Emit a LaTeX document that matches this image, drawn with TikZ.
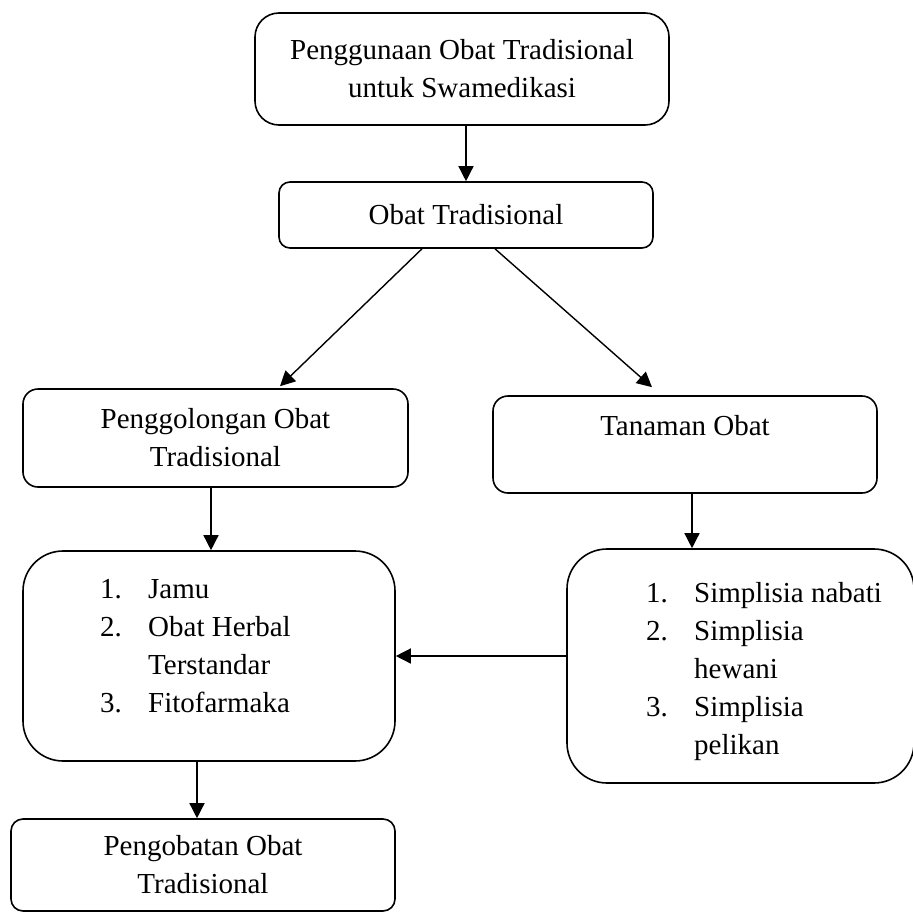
\documentclass[tikz,border=0pt]{standalone}
\usepackage{fontspec}
\setmainfont{Liberation Serif}
\usetikzlibrary{arrows.meta}

\begin{document}
\begin{tikzpicture}[
  x=1pt, y=-1pt,
  font=\fontsize{29}{38}\selectfont,
  box/.style={draw, line width=1.6pt, fill=white, align=center, inner sep=0pt},
  arr/.style={-{Triangle[length=15pt, width=15pt]}, line width=1.4pt},
  lst/.style={inner sep=0pt, anchor=base west},
]
\useasboundingbox (0,0) rectangle (913,913);

% ---------------- top of the chart ------------------------------------
\node[box, rounded corners=24pt, minimum width=414pt, minimum height=112pt]
  (swamed) at (462,69) {Penggunaan Obat Tradisional\\untuk Swamedikasi};
\node[box, rounded corners=11pt, minimum width=374pt, minimum height=66pt]
  (obat) at (466,215) {Obat Tradisional};

\draw[arr] (swamed.south -| obat.north) -- (obat.north);

% ---------------- the two branches ------------------------------------
\node[box, rounded corners=15pt, minimum width=385pt, minimum height=98pt]
  (golongan) at (215.5,438) {Penggolongan Obat\\Tradisional};
\node[box, rounded corners=15pt, minimum width=384pt, minimum height=97pt]
  (tanaman) at (685,444.5) {Tanaman Obat\\~};

\draw[arr] ([xshift=-44pt]obat.south) -- ([shift={(64.5pt,2pt)}]golongan.north);
\draw[arr] ([xshift=29pt]obat.south) -- ([shift={(-33pt,8pt)}]tanaman.north);

% ---------------- the lists -------------------------------------------
\node[box, rounded corners=40pt, minimum width=372pt, minimum height=210pt]
  (jenis) at (209,656) {};
\node[lst] (jenisisi) at (100,598) {\begin{tabular}[t]{@{}p{48pt}@{}l@{}}
  1. & Jamu\\
  2. & Obat Herbal\\
     & Terstandar\\
  3. & Fitofarmaka
\end{tabular}};

\node[box, rounded corners=40pt, minimum width=347pt, minimum height=234pt]
  (rincian) at (740.5,666) {};
\node[lst] (rincianisi) at (646,602) {\begin{tabular}[t]{@{}p{48pt}@{}l@{}}
  1. & Simplisia nabati\\
  2. & Simplisia\\
     & hewani\\
  3. & Simplisia\\
     & pelikan
\end{tabular}};

\draw[arr] ([xshift=-4.5pt]golongan.south) -- ([xshift=-4.5pt]golongan.south |- jenis.north);
\draw[arr] ([xshift=7pt]tanaman.south) -- ([xshift=7pt]tanaman.south |- rincian.north);
\draw[arr] (jenis.east -| rincian.west) -- (jenis.east);

% ---------------- bottom ----------------------------------------------
\node[box, rounded corners=12pt, minimum width=384pt, minimum height=92pt]
  (pengobatan) at (203,865) {Pengobatan Obat\\Tradisional};

\draw[arr] ([xshift=-12pt]jenis.south) -- ([xshift=-12pt]jenis.south |- pengobatan.north);

\end{tikzpicture}
\end{document}
